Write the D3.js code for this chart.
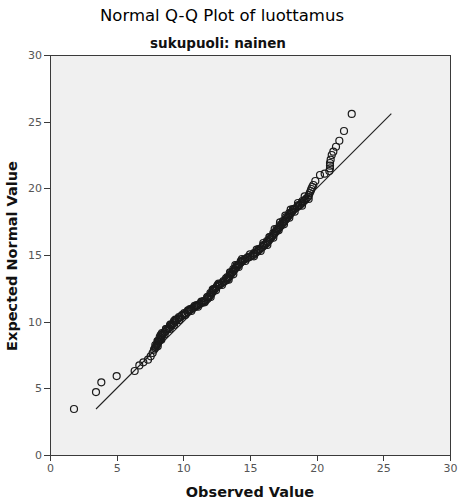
<!DOCTYPE html>
<meta charset="utf-8">
<script src="https://d3js.org/d3.v7.js"></script>
<style>
  body { margin: 0; background: #fff; }
  text { font-family: "DejaVu Sans", sans-serif; }
</style>
<div id="my_dataviz"></div>
<script>

var observed = [
  1.8, 3.45, 3.85, 5.0, 6.35, 6.7, 7.0, 7.35, 7.55, 7.7, 7.8,
  7.88, 7.93, 7.99, 8.04, 8.10, 8.15, 8.21, 8.26, 8.32, 8.37, 8.43,
  8.5, 8.6, 8.7, 8.8, 8.9, 9.0, 9.1, 9.2, 9.3, 9.4,
  9.5, 9.63, 9.77, 9.9, 10.03, 10.17, 10.3, 10.43,
  10.55, 10.68, 10.8, 10.93, 11.05, 11.18, 11.3, 11.43, 11.55, 11.68,
  11.8, 11.88, 11.95, 12.03, 12.1, 12.18, 12.25, 12.33, 12.4,
  12.5, 12.62, 12.75, 12.88, 13.0, 13.13,
  13.25, 13.33, 13.4, 13.48, 13.55, 13.63, 13.7, 13.78, 13.85, 13.93,
  14.0, 14.1, 14.2, 14.3, 14.4,
  14.5, 14.62, 14.75, 14.88, 15.0, 15.12,
  15.25, 15.36, 15.48, 15.59, 15.7, 15.82, 15.93, 16.05, 16.16,
  16.25, 16.33, 16.41, 16.49, 16.57, 16.65, 16.73, 16.81, 16.89, 16.97, 17.05, 17.13, 17.21,
  17.3, 17.38, 17.46, 17.54, 17.62, 17.7, 17.78, 17.86, 17.94, 18.02, 18.1, 18.18,
  18.25, 18.38, 18.52, 18.65,
  18.75, 18.85, 18.95, 19.05, 19.15, 19.25,
  19.37, 19.42, 19.48, 19.55, 19.6, 19.67, 19.75,
  19.9, 20.25, 20.6, 20.95, 21.0, 21.0, 21.0, 21.05,
  21.13, 21.25, 21.45, 21.7, 22.05, 22.63,
  // neighbours on the lower-right side of the dense band
  8.08, 8.1, 8.35, 8.3, 8.6, 8.7, 8.98, 9.05, 9.3, 9.4, 9.7, 9.9, 10.15, 10.35,
  10.6, 10.85, 11.1, 11.35, 11.6, 11.8, 12.05, 12.2, 12.45, 12.65, 12.9, 13.2,
  13.4, 13.5, 13.75, 13.9, 14.15, 14.4, 14.65, 15.0, 15.3, 15.5, 15.8, 16.0,
  16.3, 16.45, 16.75, 16.85, 17.15, 17.25, 17.55, 17.65, 17.95, 18.05, 18.35,
  18.6, 18.9, 19.1, 19.4,
  // neighbours on the upper-left side of the dense band
  7.90, 8.06, 8.23, 8.40, 8.70, 9.00, 9.30, 9.67, 10.07, 10.50, 11.0, 11.5,
  11.80, 12.03, 12.26, 12.57, 13.01, 13.30, 13.53, 13.75, 14.01, 14.31, 14.84,
  15.30, 15.64, 15.99, 16.27, 16.51, 16.75, 16.99, 17.23, 17.47, 17.71, 17.95,
  18.22, 18.63, 18.93
];
var expected = [
  3.45, 4.72, 5.45, 5.92, 6.3, 6.72, 6.95, 7.15, 7.4, 7.65, 7.9,
  8.0, 8.1, 8.2, 8.3, 8.4, 8.5, 8.6, 8.7, 8.8, 8.9, 9.0,
  9.12, 9.22, 9.32, 9.42, 9.52, 9.62, 9.72, 9.82, 9.92, 10.02,
  10.13, 10.23, 10.33, 10.43, 10.53, 10.63, 10.73, 10.83,
  10.91, 10.99, 11.06, 11.14, 11.21, 11.29, 11.36, 11.44, 11.51, 11.59,
  11.7, 11.8, 11.9, 12.0, 12.1, 12.2, 12.3, 12.4, 12.5,
  12.62, 12.7, 12.79, 12.88, 12.96, 13.05,
  13.13, 13.23, 13.33, 13.43, 13.53, 13.63, 13.73, 13.83, 13.93, 14.03,
  14.12, 14.22, 14.32, 14.42, 14.52,
  14.62, 14.68, 14.75, 14.81, 14.87, 14.94,
  15.0, 15.1, 15.2, 15.3, 15.4, 15.5, 15.6, 15.7, 15.8,
  15.88, 15.98, 16.08, 16.18, 16.28, 16.38, 16.48, 16.58, 16.68, 16.78, 16.88, 16.98, 17.08,
  17.18, 17.28, 17.38, 17.48, 17.58, 17.68, 17.78, 17.88, 17.98, 18.08, 18.18, 18.28,
  18.38, 18.48, 18.58, 18.68,
  18.75, 18.85, 18.95, 19.05, 19.15, 19.25,
  19.37, 19.5, 19.65, 19.8, 19.95, 20.1, 20.25,
  20.55, 21.0, 21.1, 21.3, 21.5, 21.7, 21.9, 22.15,
  22.5, 22.75, 23.12, 23.57, 24.3, 25.58,
  8.15, 8.55, 8.65, 9.0, 9.05, 9.45, 9.45, 9.8, 9.75, 10.15, 10.12, 10.5, 10.5, 10.85,
  10.8, 11.18, 11.12, 11.5, 11.45, 11.85, 11.85, 12.4, 12.35, 12.85, 12.75, 13.25,
  13.15, 13.7, 13.55, 14.25, 14.1, 14.7, 14.55, 15.05, 14.9, 15.4, 15.3, 15.9,
  15.75, 16.35, 16.3, 16.95, 16.85, 17.45, 17.3, 17.95, 17.8, 18.4, 18.25,
  18.9, 18.7, 19.4, 19.2,
  8.25, 8.55, 8.85, 9.15, 9.45, 9.75, 10.05, 10.35, 10.65, 10.95, 11.25, 11.55,
  11.85, 12.15, 12.45, 12.75, 13.05, 13.35, 13.65, 13.95, 14.25, 14.55, 14.85,
  15.15, 15.45, 15.75, 16.05, 16.35, 16.65, 16.95, 17.25, 17.55, 17.85, 18.15,
  18.45, 18.75, 19.05
];

// reference line ends
var lineEnds = [3.45, 25.6];
var ticks = [0, 5, 10, 15, 20, 25, 30];

var title = "Normal Q-Q Plot of luottamus",
    subtitle = "sukupuoli: nainen",
    xTitle = "Observed Value",
    yTitle = "Expected Normal Value";

var width = 461, height = 502,
    margin = {top: 55, left: 50},
    plot = 400;

var svg = d3.select("#my_dataviz").append("svg")
    .attr("width", width)
    .attr("height", height);

var x = d3.scaleLinear().domain([0, 30]).range([margin.left, margin.left + plot]);
var y = d3.scaleLinear().domain([0, 30]).range([margin.top + plot, margin.top]);

svg.append("rect")
    .attr("x", x(0)).attr("y", y(30))
    .attr("width", plot).attr("height", plot)
    .attr("fill", "#f0f0f0")
    .attr("stroke", "#3a3a3a")
    .attr("stroke-width", 1)
    .attr("shape-rendering", "crispEdges");

var xAxis = svg.append("g")
    .attr("transform", "translate(0," + y(0) + ")")
    .call(d3.axisBottom(x).tickValues(ticks).tickSize(6).tickSizeOuter(0).tickPadding(3));
var yAxis = svg.append("g")
    .attr("transform", "translate(" + x(0) + ",0)")
    .call(d3.axisLeft(y).tickValues(ticks).tickSize(6).tickSizeOuter(0).tickPadding(2));

[xAxis, yAxis].forEach(function(a) {
  a.select(".domain").attr("stroke", "#3a3a3a").attr("shape-rendering", "crispEdges");
  a.selectAll(".tick line").attr("stroke", "#3a3a3a").attr("shape-rendering", "crispEdges");
  a.selectAll(".tick text")
    .style("font-family", "DejaVu Sans")
    .style("font-size", "11px")
    .attr("fill", "#555");
});

// reference line
svg.append("line")
    .attr("x1", x(lineEnds[0])).attr("y1", y(lineEnds[0]))
    .attr("x2", x(lineEnds[1])).attr("y2", y(lineEnds[1]))
    .attr("stroke", "#222")
    .attr("stroke-width", 1.1);

svg.selectAll("circle.pt")
    .data(d3.range(observed.length))
    .enter()
    .append("circle")
      .attr("class", "pt")
      .attr("cx", function(i) { return x(observed[i]); })
      .attr("cy", function(i) { return y(expected[i]); })
      .attr("r", 3.5)
      .attr("fill", "none")
      .attr("stroke", "#1a1a1a")
      .attr("stroke-width", 1.2);

svg.append("text")
    .attr("x", 222).attr("y", 21)
    .attr("text-anchor", "middle")
    .style("font-size", "16.5px")
    .attr("fill", "#000")
    .text(title);

svg.append("text")
    .attr("x", 218).attr("y", 48)
    .attr("text-anchor", "middle")
    .style("font-size", "13.5px")
    .style("font-weight", "bold")
    .attr("fill", "#111")
    .text(subtitle);

svg.append("text")
    .attr("x", 250).attr("y", 497)
    .attr("text-anchor", "middle")
    .style("font-size", "14.5px")
    .style("font-weight", "bold")
    .attr("fill", "#111")
    .text(xTitle);

svg.append("text")
    .attr("transform", "translate(17,256)rotate(-90)")
    .attr("text-anchor", "middle")
    .style("font-size", "14.5px")
    .style("font-weight", "bold")
    .attr("fill", "#111")
    .text(yTitle);

</script>
